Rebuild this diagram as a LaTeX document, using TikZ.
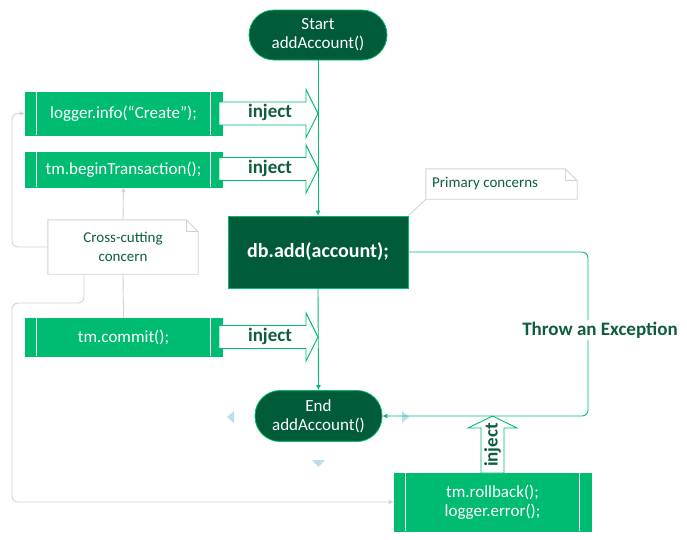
\documentclass[tikz,border=0pt]{standalone}
\usepackage{fontspec}
\setmainfont{Carlito}
\usetikzlibrary{arrows.meta}
\definecolor{gfill}{HTML}{00BC71}
\definecolor{dgreen}{HTML}{005C38}
\definecolor{tgreen}{HTML}{0E5E3A}
\definecolor{lgray}{HTML}{D3D3D3}
\definecolor{lblue}{HTML}{BBDDEE}
\begin{document}
\begin{tikzpicture}[x=1pt,y=-1pt,
  codebox/.style={rectangle, fill=gfill, draw=gfill, text=white, minimum width=197pt, inner sep=0pt,
    align=center, font=\fontsize{17}{19}\selectfont},
  term/.style={rectangle, rounded corners=25pt, fill=dgreen, draw=gfill, line width=0.8pt, text=white,
    inner sep=0pt, align=center, font=\fontsize{17}{19}\selectfont},
  notetxt/.style={rectangle, inner sep=0pt, text=tgreen, align=center, font=\fontsize{15}{19}\selectfont},
  injtxt/.style={inner sep=0pt, text=tgreen, font=\bfseries\fontsize{19}{22}\selectfont},
  flow/.style={draw=gfill, line width=0.9pt, -{Latex[length=5pt,width=5pt]}},
  grayflow/.style={draw=lgray, line width=0.9pt, rounded corners=6pt, -{Latex[length=5pt,width=5pt]}},
  grayline/.style={draw=lgray, line width=0.9pt, rounded corners=6pt},
  blockarrow/.style={draw=gfill, fill=white, line width=0.9pt, line join=miter},
]
\useasboundingbox (0,0) rectangle (687,539);

% decorative handles
\fill[lblue] (234,411) -- (227,417) -- (234,423) -- cycle;
\fill[lblue] (402,411) -- (409,417) -- (402,423) -- cycle;
\fill[lblue] (312,460) -- (325,460) -- (318.5,467) -- cycle;

% code boxes
\node[codebox, minimum height=43pt] (info) at (123.5,113.5) {logger.info(“Create”);};
\node[codebox, minimum height=35pt] (begin) at (123.5,169.5) {tm.beginTransaction();};
\node[codebox, minimum height=38pt] (commit) at (123.5,337) {tm.commit();};
\node[codebox, minimum height=58pt] (rollback) at (492.5,502) {tm.rollback();\\logger.error();};
\foreach \b in {info,begin,commit,rollback}{
  \draw[white, line width=1pt] ([xshift=11.5pt]\b.north west) -- ([xshift=11.5pt]\b.south west);
  \draw[white, line width=1pt] ([xshift=-11.5pt]\b.north east) -- ([xshift=-11.5pt]\b.south east);
}

% inject block arrows
\foreach \yc/\nm in {113.5/injA,169/injB,337/injC}{
  \draw[blockarrow] (219,\yc-11.5) -- (306,\yc-11.5) -- (306,\yc-24) -- (318,\yc) -- (306,\yc+24)
     -- (306,\yc+11.5) -- (219,\yc+11.5) -- cycle;
  \node[injtxt] (\nm) at (270,\yc-1) {inject};
}
\draw[blockarrow] (481,473) -- (481,428) -- (468,428) -- (492.5,416) -- (517,428) -- (504,428) -- (504,473) -- cycle;
\node[injtxt, rotate=90] (injD) at (492.5,445) {inject};

% terminals and main step
\node[term, minimum width=138pt, minimum height=50pt] (start) at (318,35) {Start\\addAccount()};
\node[term, minimum width=127pt, minimum height=51pt] (end) at (318.5,416) {End\\addAccount()};
\node[rectangle, fill=dgreen, draw=gfill, line width=0.8pt, minimum width=180pt, minimum height=72pt,
  text=white, font=\bfseries\fontsize{20}{24}\selectfont] (db) at (318,252) {db.add(account);};

% notes
\node[notetxt, minimum width=151pt, minimum height=30pt] (primary) at (501.5,184) {};
\node[notetxt, anchor=west] (primtxt) at (432,184) {Primary concerns};
\draw[lgray, line width=0.9pt] (primary.north west) -- ([xshift=-12pt]primary.north east)
  -- ([yshift=-12pt]primary.north east) -- (primary.south east) -- (primary.south west) -- cycle;
\draw[lgray, line width=0.9pt] ([xshift=-12pt]primary.north east) -- ([xshift=-12pt,yshift=-12pt]primary.north east)
  -- ([yshift=-12pt]primary.north east);

\node[notetxt, minimum width=150pt, minimum height=54pt] (cross) at (123,247) {Cross-cutting\\concern};
\draw[lgray, line width=0.9pt] (cross.north west) -- ([xshift=-12pt]cross.north east)
  -- ([yshift=-12pt]cross.north east) -- (cross.south east) -- (cross.south west) -- cycle;
\draw[lgray, line width=0.9pt] ([xshift=-12pt]cross.north east) -- ([xshift=-12pt,yshift=-12pt]cross.north east)
  -- ([yshift=-12pt]cross.north east);

% main flow
\draw[flow] (start.south) -- (db.north);
\draw[flow] (db.south) -- (end.north);
\coordinate (exA) at (588,252);
\coordinate (exB) at (588,416);
\draw[flow, rounded corners=6pt] (db.east) -- (exA) -- (exB) -- (end.east);
\node[fill=white, inner sep=2pt, text=tgreen, font=\bfseries\fontsize{19}{22}\selectfont] (exc) at (600,330) {Throw an Exception};

% gray connectors
\draw[lgray, line width=0.9pt] (primary.south west) -- (db.north east);
\draw[grayflow] (cross.north) -- (begin.south);
\coordinate (cA) at (12,247);
\coordinate (cB) at (12,113.5);
\draw[grayflow] (cross.west) -- (cA) -- (cB) -- (info.west);
\draw[grayline] (cross.south) -- (commit.north);
\coordinate (cC) at (84,274);
\coordinate (cD) at (84,303);
\coordinate (cE) at (12,303);
\coordinate (cF) at (12,502);
\draw[grayflow] (cC) -- (cD) -- (cE) -- (cF) -- (rollback.west);
\end{tikzpicture}
\end{document}
